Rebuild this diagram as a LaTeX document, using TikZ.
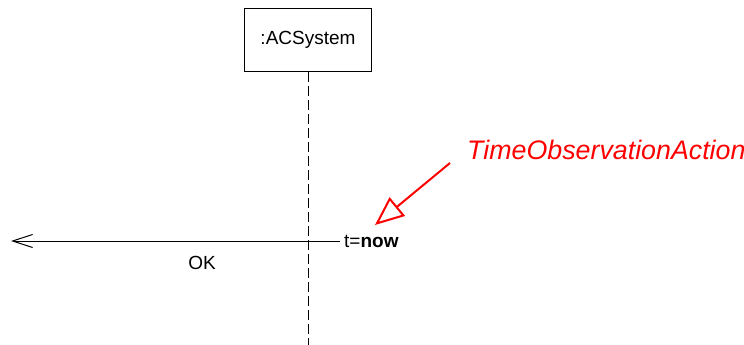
\documentclass[tikz,border=0pt]{standalone}
\usepackage{fontspec}
\setmainfont{Liberation Sans}
\usetikzlibrary{arrows.meta}
\begin{document}
\begin{tikzpicture}[x=1pt,y=-1pt,
  lbl/.style={inner sep=0pt,font=\fontsize{19}{22}\selectfont},
  redlbl/.style={inner sep=0pt,text=red,font=\fontsize{26.8}{30}\selectfont\itshape},
  objbox/.style={draw,line width=1pt,minimum width=127pt,minimum height=63pt,inner sep=0pt,font=\fontsize{19}{22}\selectfont},
  lifeline/.style={line width=0.9pt,dash pattern=on 10pt off 4pt},
  msg/.style={line width=1pt,-{Straight Barb[length=20pt,width=13pt,line width=1pt]}},
  note/.style={red,line width=2pt,-{Triangle[open,length=29pt,width=24pt,line width=2pt]}}]
\useasboundingbox (0,0) rectangle (744,345);
\node[objbox] (obj) at (308,40) {:ACSystem};
\coordinate (llend) at (308,345);
\draw[lifeline] (obj.south) -- (llend);
\node[lbl,anchor=west] (tnow) at (344,241) {t=\textbf{now}};
\coordinate (msgend) at (11,241);
\draw[msg] (tnow.west) ++(-4,0) coordinate (msgstart) -- (msgend);
\node[lbl] (ok) at (202,263) {OK};
\node[redlbl,anchor=west] (toa) at (467,150) {TimeObservationAction};
\coordinate (noteA) at (450,163);
\coordinate (noteB) at (375,225);
\draw[note] (noteA) -- (noteB);
\end{tikzpicture}
\end{document}
